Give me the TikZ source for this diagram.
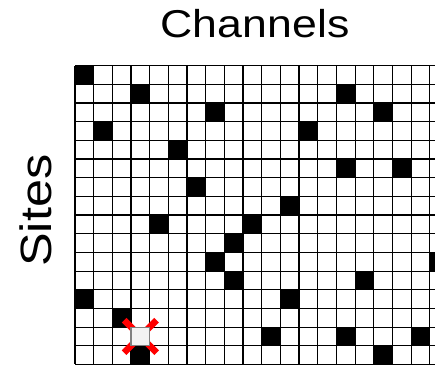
\documentclass[tikz,border=0pt]{standalone}
\usepackage{fontspec}
\newfontfamily\rotulo[FakeStretch=1.15]{Liberation Sans}
\tikzset{
  rejilla/.style={line width=0.9pt, black},
  ocupada/.style={fill=black},
  cruz/.style={red, line width=5pt},
  hueco/.style={fill=black!5, draw=black!50, line width=0.9pt}
}
\begin{document}
\begin{tikzpicture}[x=0.5cm, y=0.5cm]
        % Margenes
        \useasboundingbox (-4.017,3.519) rectangle (19.28,-16.03);

        % Titulos
        \node[anchor=base, inner sep=0pt, font=\rotulo\fontsize{29.6}{30}\selectfont] (canales) at (9.64,1.484) {Channels};
        \node[anchor=base, rotate=90, inner sep=0pt, font=\rotulo\fontsize{33.4}{34}\selectfont] (sitios) at (-1.248,-7.76) {Sites};

        \begin{scope}
            \clip (-0.2,0.2) rectangle (19.28,-16.2);
            % Celdas ocupadas (columna/fila)
            \foreach \c/\r in {0/0, 3/1, 14/1, 7/2, 16/2, 1/3, 12/3, 5/4, 14/5, 17/5,
                               6/6, 11/7, 4/8, 9/8, 8/9, 7/10, 19/10, 8/11, 15/11,
                               0/12, 11/12, 2/13, 10/14, 14/14, 18/14, 3/15, 16/15}
                \fill[ocupada] (\c,-\r) rectangle ++(1,-1);
            % Rejilla
            \foreach \c in {0,...,19}
                \draw[rejilla] (\c,0) -- (\c,-16);
            \foreach \r in {0,...,16}
                \draw[rejilla] (0,-\r) -- (19.28,-\r);
        \end{scope}

        % Celda tachada
        \coordinate (tachada) at (3.5,-14.5);
        \draw[cruz] (tachada) ++(-0.87,0.87) -- ++(1.74,-1.74);
        \draw[cruz] (tachada) ++(0.87,0.87) -- ++(-1.74,-1.74);
        \draw[hueco] (3,-14) rectangle (4,-15);
    \end{tikzpicture}
\end{document}
